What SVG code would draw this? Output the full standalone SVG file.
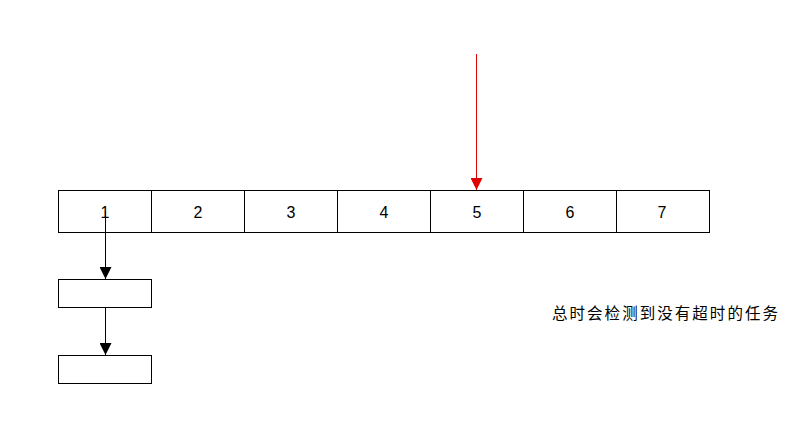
<svg xmlns="http://www.w3.org/2000/svg" width="808" height="437" viewBox="0 0 808 437">
<style>
.cell{fill:#fff;stroke:#000;stroke-width:1}
.num{font-family:"Liberation Sans",Arial,sans-serif;font-size:16px;fill:#000;text-anchor:middle}
.note{font-family:"Liberation Sans","Noto Sans CJK SC",sans-serif;font-size:15.5px;fill:#000}
.blk{stroke:#000;stroke-width:1;fill:none}
.red{stroke:#e00000;stroke-width:1;fill:none}
</style>
<defs>
<marker id="ab" markerUnits="userSpaceOnUse" markerWidth="12" markerHeight="12" refX="12" refY="6" orient="auto">
<path d="M0,0 L12,6 L0,12 Z" fill="#000"/>
</marker>
<marker id="ar" markerUnits="userSpaceOnUse" markerWidth="12" markerHeight="12" refX="12" refY="6" orient="auto">
<path d="M0,0 L12,6 L0,12 Z" fill="#e00000"/>
</marker>
</defs>
<rect width="808" height="437" fill="#fff"/>
<g id="cell1"><rect class="cell" x="58.5" y="190.5" width="93" height="42"/><text class="num" x="105" y="218">1</text></g>
<g id="cell2"><rect class="cell" x="151.5" y="190.5" width="93" height="42"/><text class="num" x="198" y="218">2</text></g>
<g id="cell3"><rect class="cell" x="244.5" y="190.5" width="93" height="42"/><text class="num" x="291" y="218">3</text></g>
<g id="cell4"><rect class="cell" x="337.5" y="190.5" width="93" height="42"/><text class="num" x="384" y="218">4</text></g>
<g id="cell5"><rect class="cell" x="430.5" y="190.5" width="93" height="42"/><text class="num" x="477" y="218">5</text></g>
<g id="cell6"><rect class="cell" x="523.5" y="190.5" width="93" height="42"/><text class="num" x="570" y="218">6</text></g>
<g id="cell7"><rect class="cell" x="616.5" y="190.5" width="93" height="42"/><text class="num" x="662" y="218">7</text></g>
<g id="task1"><rect class="cell" x="58.5" y="279.5" width="93" height="28"/></g>
<g id="task2"><rect class="cell" x="58.5" y="355.5" width="93" height="28"/></g>
<g id="note"><text class="note" x="552" y="319" textLength="226" lengthAdjust="spacing">总时会检测到没有超时的任务</text></g>
<g id="connectors">
<line class="blk" x1="105.5" y1="211" x2="105.5" y2="279" marker-end="url(#ab)"/>
<line class="blk" x1="105.5" y1="308" x2="105.5" y2="355" marker-end="url(#ab)"/>
<line class="red" x1="476.5" y1="54" x2="476.5" y2="190" marker-end="url(#ar)"/>
</g>
</svg>
